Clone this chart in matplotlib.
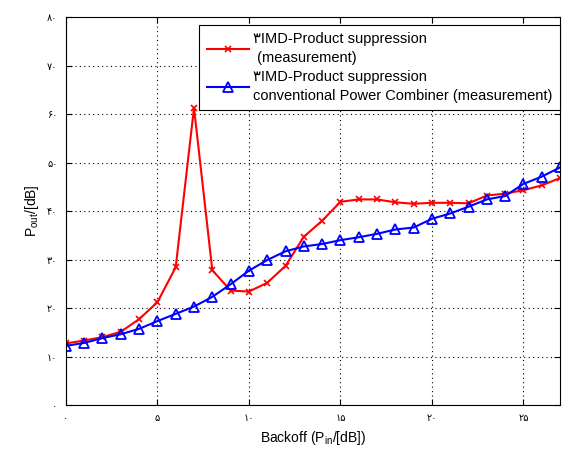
import matplotlib
matplotlib.use('Agg')
import matplotlib.pyplot as plt

plt.rcParams['font.family'] = ['Liberation Sans', 'DejaVu Sans']
plt.rcParams['mathtext.fontset'] = 'custom'
plt.rcParams['mathtext.rm'] = 'Liberation Sans'
plt.rcParams['mathtext.it'] = 'Liberation Sans'

# backoff steps (dB)
backoff = list(range(0, 28))

# 3IMD product suppression, measured
imd_meas = [12.7, 13.3, 14.0, 15.1, 17.7, 21.2, 28.4, 61.3, 27.8, 23.6,
            23.4, 25.2, 28.7, 34.7, 38.0, 41.9, 42.4, 42.4, 41.8, 41.5,
            41.7, 41.7, 41.6, 43.2, 43.6, 44.3, 45.3, 46.8]

# 3IMD product suppression, conventional power combiner
imd_conv = [12.2, 12.8, 13.8, 14.6, 15.7, 17.3, 18.8, 20.3, 22.3, 24.9,
            27.7, 29.9, 31.7, 32.7, 33.2, 34.0, 34.6, 35.3, 36.2, 36.6,
            38.4, 39.5, 40.9, 42.4, 43.1, 45.6, 47.1, 49.0]

fa = '۰۱۲۳۴۵۶۷۸۹'
def fa_num(n):
	return ''.join(fa[int(c)] for c in str(n))

xticks = [0, 5, 10, 15, 20, 25]
yticks = [0, 10, 20, 30, 40, 50, 60, 70, 80]

fig = plt.figure(figsize=(5.68, 4.5), dpi=100)
ax = fig.add_axes([0.116, 0.1, 0.87, 0.862])

ax.plot(backoff, imd_meas, color='red', marker='x', markersize=5, linewidth=1.5,
		markeredgewidth=1.2,
		label=fa_num(3) + 'IMD-Product suppression\n (measurement)')
ax.plot(backoff, imd_conv, color='blue', marker='^', markersize=7, linewidth=1.5,
		markerfacecolor='none', markeredgewidth=1.3,
		label=fa_num(3) + 'IMD-Product suppression\nconventional Power Combiner (measurement)')

ax.set_xlim(0, 27)
ax.set_ylim(0, 80)
ax.set_xticks(xticks)
ax.set_xticklabels([fa_num(v) for v in xticks], fontsize=7)
ax.set_yticks(yticks)
ax.set_yticklabels([fa_num(v) for v in yticks], fontsize=7)
ax.tick_params(direction='in', top=True, right=True, length=4, pad=6)
ax.grid(True, linestyle=(0, (1, 3)), color='black', linewidth=0.8)

ax.set_xlabel(r'Backoff (P$_{\mathrm{in}}$/[dB])', fontsize=10)
ax.set_ylabel(r'P$_{\mathrm{out}}$/[dB]', fontsize=10)

leg = ax.legend(loc='upper right', bbox_to_anchor=(1.0, 0.98), fontsize=10.5,
				fancybox=False, framealpha=1, edgecolor='black',
				borderaxespad=0, handlelength=2.9, labelspacing=0.35,
				handletextpad=0.3, borderpad=0.5)
for t in leg.get_texts():
	t.set_linespacing(1.45)
leg.get_frame().set_linewidth(0.8)

fig.savefig('out.png', dpi=100)
